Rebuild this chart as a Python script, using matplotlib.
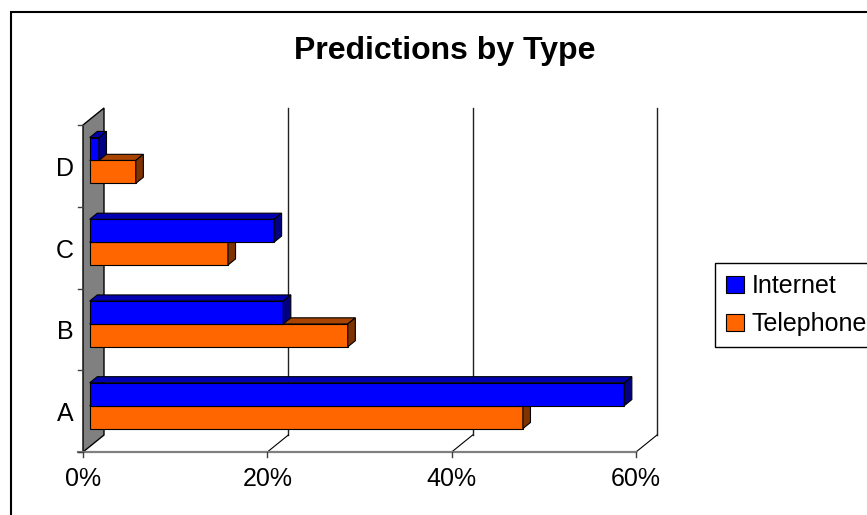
import matplotlib
matplotlib.use('Agg')
import matplotlib.pyplot as plt
from matplotlib.patches import Polygon, Rectangle, Patch

plt.rcParams['font.family'] = ['Liberation Sans', 'DejaVu Sans']

categories = ['A', 'B', 'C', 'D']
internet = [58, 21, 20, 1]
telephone = [47, 28, 15, 5]
x_ticks = [0, 20, 40, 60]
x_labels = ['0%', '20%', '40%', '60%']

W, H = 867, 515
fig = plt.figure(figsize=(W / 100, H / 100), dpi=100)

# front plane of the 3d box, in pixels
x0, x1 = 83, 636
y_bot, y_top = 452, 125
ax = fig.add_axes([x0 / W, (H - y_bot) / H, (x1 - x0) / W, (y_bot - y_top) / H])
ax.set_xlim(0, 60)
ax.set_ylim(-0.5, 3.5)
ax.axis('off')

px_x = 60 / (x1 - x0)
px_y = 4 / (y_bot - y_top)

# depth of the floor / wall
dxf = 21 * px_x
dyf = 17 * px_y
f0, f1 = 0.32, 0.68
h = 0.28

# back wall
wall = Polygon([(0, -0.5), (0, 3.5), (dxf, 3.5 + dyf), (dxf, -0.5 + dyf)],
               closed=True, facecolor='#808080', edgecolor='black', lw=1.0,
               clip_on=False, zorder=1)
ax.add_patch(wall)

# back gridlines and floor diagonals
for t in x_ticks[1:]:
    ax.plot([t + dxf, t + dxf], [-0.5 + dyf, 3.5 + dyf], color='#202020', lw=1.0,
            clip_on=False, zorder=0.5)
    ax.plot([t, t + dxf], [-0.5, -0.5 + dyf], color='black', lw=0.8,
            clip_on=False, zorder=0.5)

# front floor edge with ticks
ax.plot([-5 * px_x, 60], [-0.5, -0.5], color='#808080', lw=1.6, clip_on=False, zorder=2)
for t, lab in zip(x_ticks, x_labels):
    ax.plot([t, t], [-0.5, -0.5 - 5 * px_y], color='#404040', lw=1.0, clip_on=False)
    ax.text(t, -0.5 - 27 * px_y, lab, ha='center', va='center', fontsize=18)

# category axis ticks and labels
for yb in [-0.5, 0.5, 1.5, 2.5, 3.5]:
    ax.plot([-5 * px_x, 0], [yb, yb], color='#404040', lw=1.0, clip_on=False)
for i, c in enumerate(categories):
    ax.text(-18 * px_x, i - 3 * px_y, c, ha='center', va='center', fontsize=18)


def bar3d(y, val, front, top, side):
    left = f0 * dxf
    yb = y + f0 * dyf
    ddx = (f1 - f0) * dxf
    ddy = (f1 - f0) * dyf
    ax.barh(yb, val, height=h, left=left, align='edge', color=front,
            edgecolor='black', lw=0.8, clip_on=False, zorder=3)
    r = left + val
    ax.add_patch(Polygon([(left, yb + h), (r, yb + h), (r + ddx, yb + h + ddy),
                          (left + ddx, yb + h + ddy)], closed=True, facecolor=top,
                         edgecolor='black', lw=0.8, clip_on=False, zorder=3))
    ax.add_patch(Polygon([(r, yb), (r, yb + h), (r + ddx, yb + h + ddy),
                          (r + ddx, yb + ddy)], closed=True, facecolor=side,
                         edgecolor='black', lw=0.8, clip_on=False, zorder=3))


for i in range(len(categories) - 1, -1, -1):
    bar3d(i - h, telephone[i], '#FF6600', '#A84400', '#7F3300')
    bar3d(i, internet[i], '#0000FF', '#0000B0', '#000080')

fig.text(445 / W, 1 - 51 / H, 'Predictions by Type', ha='center', va='center',
         fontsize=23, fontweight='bold')

handles = [Patch(facecolor='#0000FF', edgecolor='black', lw=0.8),
           Patch(facecolor='#FF6600', edgecolor='black', lw=0.8)]
leg = fig.legend(handles, ['Internet', 'Telephone'], loc='upper left',
                 bbox_to_anchor=(715 / W, 1 - 263 / H), fontsize=18,
                 frameon=True, fancybox=False, framealpha=1, edgecolor='black',
                 handlelength=0.7, handleheight=0.7, handletextpad=0.3,
                 borderpad=0.45, labelspacing=0.55, borderaxespad=0)
leg.get_frame().set_linewidth(1.0)

# chart border
fig.patches.append(Rectangle((11 / W, -0.1), 1.2, 1.1 - 12 / H, transform=fig.transFigure,
                             fill=False, edgecolor='black', lw=1.5))

fig.savefig('out.png', dpi=100)
